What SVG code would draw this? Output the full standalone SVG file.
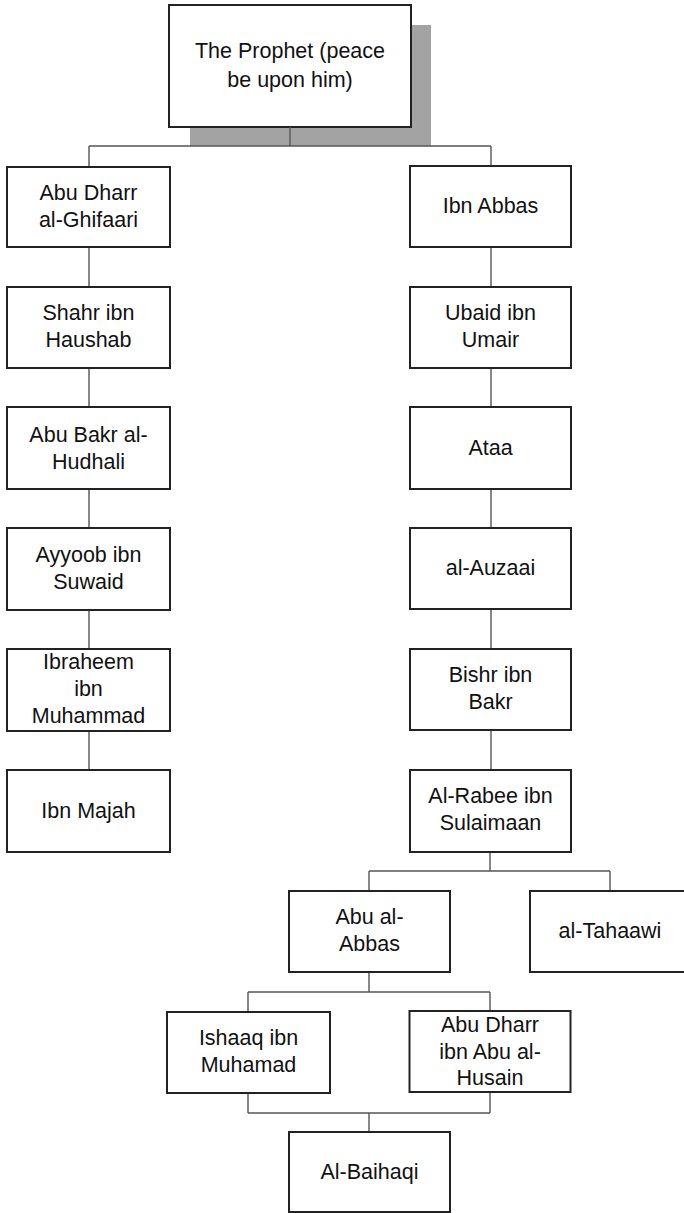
<svg xmlns="http://www.w3.org/2000/svg" width="684" height="1213" viewBox="0 0 684 1213">
<style>
.box{fill:#fff;stroke:#222;stroke-width:2}
.shadow{fill:#a3a3a3}
.t{font-family:"Liberation Sans",Arial,sans-serif;font-size:21.5px;fill:#111;text-anchor:middle}
.c{fill:none;stroke:#555;stroke-width:1.4}
</style>
<rect width="684" height="1213" fill="#fff"/>
<g id="prophet">
<rect class="shadow" x="190" y="25" width="241" height="121"/>
<rect class="box" x="169" y="5" width="242" height="122"/>
<text class="t" x="290" y="58">The Prophet (peace</text>
<text class="t" x="290" y="86.5">be upon him)</text>
</g>
<g id="connectors">
<path class="c" d="M290,127V146M89,146H491M89,146V167M491,146V166"/>
<path class="c" d="M89,247V287M89,368V407M89,489V528M89,610V649M89,731V770"/>
<path class="c" d="M491,247V287M491,368V407M491,489V528M491,609V649M491,730V770"/>
<path class="c" d="M490,852V871M369,871H610M369,871V891M610,871V891"/>
<path class="c" d="M369,972V992M248,992H490M248,992V1012M490,992V1011"/>
<path class="c" d="M248,1093V1113M490,1092V1113M248,1113H490M369,1113V1132"/>
</g>
<g id="abu-dharr-ghifaari">
<rect class="box" x="7" y="167" width="163" height="80"/>
<text class="t" x="88.5" y="200">Abu Dharr</text>
<text class="t" x="88.5" y="227">al-Ghifaari</text>
</g>
<g id="shahr">
<rect class="box" x="7" y="287" width="163" height="81"/>
<text class="t" x="88.5" y="320">Shahr ibn</text>
<text class="t" x="88.5" y="347">Haushab</text>
</g>
<g id="abu-bakr">
<rect class="box" x="7" y="407" width="163" height="82"/>
<text class="t" x="88.5" y="442">Abu Bakr al-</text>
<text class="t" x="88.5" y="469">Hudhali</text>
</g>
<g id="ayyoob">
<rect class="box" x="7" y="528" width="163" height="82"/>
<text class="t" x="88.5" y="562">Ayyoob ibn</text>
<text class="t" x="88.5" y="589">Suwaid</text>
</g>
<g id="ibraheem">
<rect class="box" x="7" y="649" width="163" height="82"/>
<text class="t" x="88.5" y="669">Ibraheem</text>
<text class="t" x="88.5" y="696">ibn</text>
<text class="t" x="88.5" y="723">Muhammad</text>
</g>
<g id="ibn-majah">
<rect class="box" x="7" y="770" width="163" height="82"/>
<text class="t" x="88.5" y="817.5">Ibn Majah</text>
</g>
<g id="ibn-abbas">
<rect class="box" x="410" y="166" width="161" height="81"/>
<text class="t" x="490.5" y="213">Ibn Abbas</text>
</g>
<g id="ubaid">
<rect class="box" x="410" y="287" width="161" height="81"/>
<text class="t" x="490.5" y="320">Ubaid ibn</text>
<text class="t" x="490.5" y="347">Umair</text>
</g>
<g id="ataa">
<rect class="box" x="410" y="407" width="161" height="82"/>
<text class="t" x="490.5" y="454.5">Ataa</text>
</g>
<g id="auzaai">
<rect class="box" x="410" y="528" width="161" height="81"/>
<text class="t" x="490.5" y="575">al-Auzaai</text>
</g>
<g id="bishr">
<rect class="box" x="410" y="649" width="161" height="81"/>
<text class="t" x="490.5" y="682">Bishr ibn</text>
<text class="t" x="490.5" y="709">Bakr</text>
</g>
<g id="rabee">
<rect class="box" x="410" y="770" width="161" height="82"/>
<text class="t" x="490.5" y="803">Al-Rabee ibn</text>
<text class="t" x="490.5" y="830">Sulaimaan</text>
</g>
<g id="abu-al-abbas">
<rect class="box" x="289" y="891" width="161" height="81"/>
<text class="t" x="369.5" y="924">Abu al-</text>
<text class="t" x="369.5" y="951">Abbas</text>
</g>
<g id="tahaawi">
<rect class="box" x="530" y="891" width="160" height="81"/>
<text class="t" x="610" y="937.5">al-Tahaawi</text>
</g>
<g id="ishaaq">
<rect class="box" x="167" y="1012" width="163" height="81"/>
<text class="t" x="248.5" y="1045">Ishaaq ibn</text>
<text class="t" x="248.5" y="1072">Muhamad</text>
</g>
<g id="abu-dharr-husain">
<rect class="box" x="409.5" y="1011" width="161" height="81"/>
<text class="t" x="490" y="1032">Abu Dharr</text>
<text class="t" x="490" y="1058.5">ibn Abu al-</text>
<text class="t" x="490" y="1085">Husain</text>
</g>
<g id="baihaqi">
<rect class="box" x="289" y="1132" width="161" height="80"/>
<text class="t" x="369.5" y="1179">Al-Baihaqi</text>
</g>
</svg>
